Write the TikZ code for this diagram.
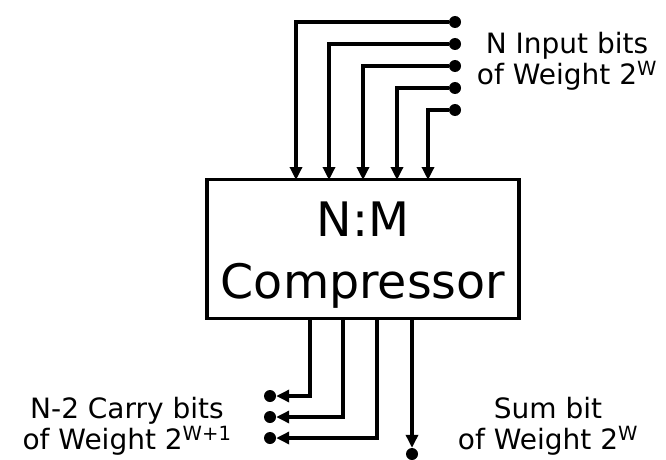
\documentclass[tikz,border=0pt]{standalone}
\usepackage{fontspec}
\setmainfont{DejaVu Sans}
\usetikzlibrary{arrows.meta,positioning}

\tikzset{
  wire/.style={line width=3.4pt, -{Triangle[length=13pt,width=12pt]}},
  pin/.style={circle, fill=black, inner sep=0pt, minimum size=12pt},
  lbl/.style={align=center, font=\fontsize{28}{31}\selectfont}
}

\begin{document}
\begin{tikzpicture}[x=1pt, y=-1pt]
      \useasboundingbox (0,0) rectangle (666,460);

      % Compressor block
      \node[rectangle, draw, line width=3.4pt, minimum width=312pt, minimum height=139pt] (comp) at (363,249) {};
      \node[font=\fontsize{47.5}{67}\selectfont] (nm) at (363,219) {N:M};
      \node[font=\fontsize{47.5}{67}\selectfont, below=20pt of nm] (name) {Compressor};

      % Input pins
      \node[pin] (in1) at (455,22) {};
      \node[pin] (in2) at (455,44) {};
      \node[pin] (in3) at (455,66) {};
      \node[pin] (in4) at (455,88) {};
      \node[pin] (in5) at (455,110) {};

      % Entry points on top edge
      \coordinate (t1) at (296,180);
      \coordinate (t2) at (329,180);
      \coordinate (t3) at (363,180);
      \coordinate (t4) at (397,180);
      \coordinate (t5) at (428,180);

      % Exit points on bottom edge
      \coordinate (b1) at (310,319);
      \coordinate (b2) at (343,319);
      \coordinate (b3) at (377,319);
      \coordinate (b4) at (412,319);

      % Output pins
      \node[pin] (out1) at (270,396) {};
      \node[pin] (out2) at (270,417) {};
      \node[pin] (out3) at (270,438) {};
      \node[pin] (sum) at (412,454) {};

      % Labels
      \node[lbl] (inlbl) at (567,61) {N Input bits\\of Weight 2\textsuperscript{W}};
      \node[lbl] (carrylbl) at (127,426) {N-2 Carry bits\\of Weight 2\textsuperscript{W+1}};
      \node[lbl] (sumlbl) at (548,426) {Sum bit\\of Weight 2\textsuperscript{W}};

      % Arrows
      \draw[wire] (in1) -| (t1);
      \draw[wire] (in2) -| (t2);
      \draw[wire] (in3) -| (t3);
      \draw[wire] (in4) -| (t4);
      \draw[wire] (in5) -| (t5);
      \draw[wire] (b1) |- (out1);
      \draw[wire] (b2) |- (out2);
      \draw[wire] (b3) |- (out3);
      \draw[wire] (b4) -- (sum);
    \end{tikzpicture}
\end{document}
